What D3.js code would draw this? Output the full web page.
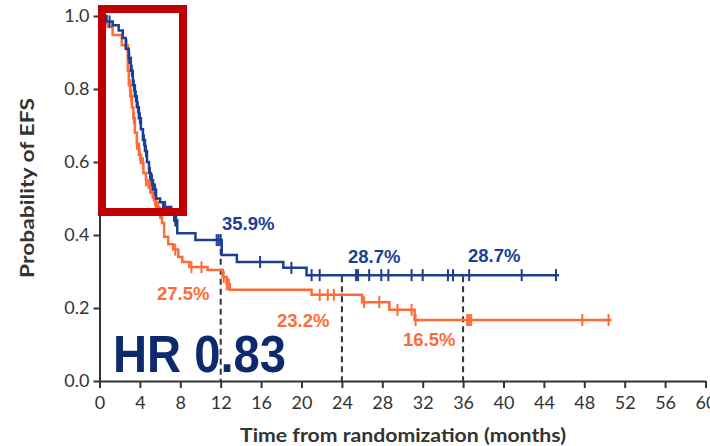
<!DOCTYPE html>
<html><head><meta charset="utf-8">
<script src="https://cdn.jsdelivr.net/npm/d3@7"></script>
<style>body{margin:0;background:#fff;overflow:hidden}</style>
</head><body><svg id="c" width="710" height="446"></svg>
<script>
// ---- data ----
const xTicks = [0,4,8,12,16,20,24,28,32,36,40,44,48,52,56,60];
const yTicks = [0,0.2,0.4,0.6,0.8,1.0];

const blueTimes = [0,0.7,1.3,1.9,2.3,2.6,2.9,3.1,3.3,3.5,3.7,3.9,4.1,4.3,4.5,4.7,4.9,5.1,5.3,5.6,6.0,6.3,7.1,7.4,7.7,9.5,12.1,13.6,18.2,20.5];
const blueSurv  = [1.0,0.985,0.975,0.96,0.94,0.91,0.885,0.85,0.81,0.78,0.75,0.72,0.69,0.66,0.63,0.60,0.57,0.55,0.525,0.50,0.49,0.477,0.463,0.44,0.405,0.386,0.345,0.326,0.31,0.29];
const blueEnd = 45.5;
const blueCensor = [1.0,2.95,3.2,3.4,3.6,3.8,4.0,4.4,4.6,5.0,5.2,5.5,6.5,7.5,7.6,11.6,11.8,12.0,15.9,19.0,21.0,21.8,25.4,25.6,26.7,27.9,28.6,30.9,32.0,34.5,35.0,36.6,41.8,45.2];

const orangeTimes = [0,0.3,0.8,1.3,2.2,2.8,2.9,3.05,3.2,3.35,3.5,3.7,3.9,4.1,4.35,4.6,4.85,5.1,5.4,5.6,5.9,6.2,6.4,6.8,7.3,7.8,8.2,8.9,10.7,12.2,12.6,12.9,21.0,26.0,28.7,31.2];
const orangeSurv  = [1.0,0.98,0.97,0.948,0.92,0.85,0.81,0.78,0.75,0.72,0.68,0.65,0.62,0.597,0.57,0.55,0.53,0.515,0.495,0.477,0.46,0.433,0.395,0.375,0.36,0.34,0.326,0.312,0.304,0.285,0.265,0.25,0.236,0.216,0.195,0.167];
const orangeEnd = 50.7;
const orangeCensor = [2.7,3.0,3.15,3.4,3.7,4.0,4.3,4.6,5.0,5.25,5.5,5.8,6.0,7.5,9.1,10.1,12.3,12.6,12.8,21.8,22.6,23.2,26.2,27.7,29.5,30.9,31.3,36.4,36.6,36.8,47.8,50.4];

const dashTimes = [12,24,36];
const dashTops  = [0.39,0.287,0.287];

const blueLabels   = ["35.9%","28.7%","28.7%"];
const orangeLabels = ["27.5%","23.2%","16.5%"];
const hrText = "HR 0.83";
const xTitle = "Time from randomization (months)";
const yTitle = "Probability of EFS";

// ---- chart ----
const BLUE = "#1c3f94", ORANGE = "#ff6b35", NAVY = "#0c2a6c", AXIS = "#333";
const svg = d3.select("#c");
const x = d3.scaleLinear().domain([0,60]).range([99.5,705.5]);
const y = d3.scaleLinear().domain([0,1]).range([381,16]);
const tickFont = "Lato, 'Open Sans', sans-serif";

// axes
const gx = svg.append("g").attr("transform","translate(0,381)")
  .call(d3.axisBottom(x).tickValues(xTicks).tickFormat(d3.format("d")).tickSize(7).tickSizeOuter(0).tickPadding(8));
const gy = svg.append("g").attr("transform","translate(99.5,0)")
  .call(d3.axisLeft(y).tickValues(yTicks).tickFormat(d3.format(".1f")).tickSize(6).tickSizeOuter(0).tickPadding(4));
[gx,gy].forEach(g=>{
  g.select(".domain").attr("stroke",AXIS).attr("stroke-width",2);
  g.selectAll(".tick line").attr("stroke",AXIS).attr("stroke-width",2);
  g.selectAll(".tick text").attr("fill",AXIS).style("font-family",tickFont).style("font-size","18px");
});

// axis titles
svg.append("text").attr("x",403).attr("y",442).attr("text-anchor","middle")
  .attr("textLength",326).attr("lengthAdjust","spacingAndGlyphs")
  .style("font-family",tickFont).style("font-weight","bold").style("font-size","19px").attr("fill",AXIS).text(xTitle);
svg.append("text").attr("transform","translate(34,188) rotate(-90)").attr("text-anchor","middle")
  .attr("textLength",180).attr("lengthAdjust","spacingAndGlyphs")
  .style("font-family",tickFont).style("font-weight","bold").style("font-size","19px").attr("fill",AXIS).text(yTitle);

// dashed reference lines
svg.append("g").selectAll("line").data(dashTimes).join("line")
  .attr("x1",d=>x(d)).attr("x2",d=>x(d))
  .attr("y1",(d,i)=>y(dashTops[i])).attr("y2",y(0))
  .attr("stroke",AXIS).attr("stroke-width",2).attr("stroke-dasharray","6,4");

// KM curves
function drawCurve(times, surv, end, censor, color){
  const pts = times.map((t,i)=>[t,surv[i]]);
  pts.push([end, surv[surv.length-1]]);
  const line = d3.line().x(d=>x(d[0])).y(d=>y(d[1])).curve(d3.curveStepAfter);
  svg.append("path").datum(pts).attr("d",line).attr("fill","none")
    .attr("stroke",color).attr("stroke-width",2.5);
  const survAt = t => surv[Math.max(0, d3.bisectRight(times,t)-1)];
  svg.append("g").selectAll("line").data(censor).join("line")
    .attr("x1",d=>x(d)).attr("x2",d=>x(d))
    .attr("y1",d=>y(survAt(d))-6).attr("y2",d=>y(survAt(d))+6)
    .attr("stroke",color).attr("stroke-width",2);
}
drawCurve(orangeTimes, orangeSurv, orangeEnd, orangeCensor, ORANGE);
drawCurve(blueTimes, blueSurv, blueEnd, blueCensor, BLUE);

// percentage labels
const labFont = "'Liberation Sans', Arial, sans-serif";
const bluePos = [[222,230],[348,263],[468,262]];
const orangePos = [[157,300],[277,327],[403,346]];
function labels(arr,pos,color){
  svg.append("g").selectAll("text").data(arr).join("text")
    .attr("x",(d,i)=>pos[i][0]).attr("y",(d,i)=>pos[i][1])
    .style("font-family",labFont).style("font-weight","bold").style("font-size","18.5px")
    .attr("fill",color).text(d=>d);
}
labels(blueLabels,bluePos,BLUE);
labels(orangeLabels,orangePos,ORANGE);

// HR text
svg.append("text").attr("x",113).attr("y",372)
  .attr("textLength",173).attr("lengthAdjust","spacingAndGlyphs")
  .style("font-family",labFont).style("font-weight","bold").style("font-size","51px")
  .attr("fill",NAVY).text(hrText);

// red highlight box
svg.append("rect").attr("x",102).attr("y",9).attr("width",81).attr("height",203)
  .attr("fill","none").attr("stroke","#c00000").attr("stroke-width",8);
</script></body></html>
